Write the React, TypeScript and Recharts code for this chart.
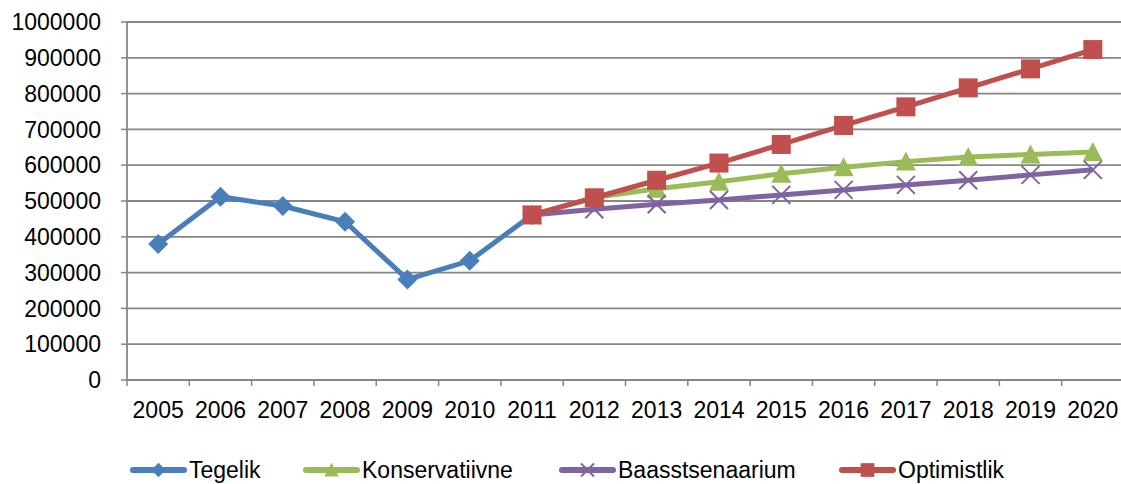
import React from 'react';
import { LineChart, Line, XAxis, YAxis, CartesianGrid, Legend } from 'recharts';

const years = ['2005', '2006', '2007', '2008', '2009', '2010', '2011', '2012', '2013', '2014', '2015', '2016', '2017', '2018', '2019', '2020'];
const tegelik = [380000, 512000, 486000, 442000, 281000, 333000, 461000, null, null, null, null, null, null, null, null, null];
const konservatiivne = [null, null, null, null, null, null, 461000, 510000, 534000, 554000, 576000, 594000, 610000, 623000, 630000, 637000];
const baasstsenaarium = [null, null, null, null, null, null, 461000, 477000, 491000, 503000, 517000, 531000, 545000, 558000, 573000, 587000];
const optimistlik = [null, null, null, null, null, null, 461000, 509000, 558000, 606000, 658000, 711000, 763000, 816000, 869000, 923000];
const yTicks = [0, 100000, 200000, 300000, 400000, 500000, 600000, 700000, 800000, 900000, 1000000];

const data = years.map((year, i) => ({
  year,
  tegelik: tegelik[i],
  konservatiivne: konservatiivne[i],
  baasstsenaarium: baasstsenaarium[i],
  optimistlik: optimistlik[i],
}));

const FONT = '"Liberation Sans", Arial, sans-serif';
const BLUE = '#4A7EBB';
const GREEN = '#9BBB59';
const PURPLE = '#8064A2';
const RED = '#C0504D';
const AXIS = '#868686';

const CHART_W = 1124;
const PLOT_LEFT = 127;
const BAND = (CHART_W - PLOT_LEFT) / years.length;
const TICK_SIZE = 6;
const TICK_MARGIN = 16;

type Shape = 'diamond' | 'triangle' | 'cross' | 'square';

function marker(shape: Shape, color: string, cx: number, cy: number, s = 1) {
  const r = 10 * s;
  if (shape === 'diamond') {
    return <polygon points={`${cx},${cy - r} ${cx + r},${cy} ${cx},${cy + r} ${cx - r},${cy}`} fill={color} />;
  }
  if (shape === 'triangle') {
    return <polygon points={`${cx},${cy - r} ${cx + r},${cy + 0.9 * r} ${cx - r},${cy + 0.9 * r}`} fill={color} />;
  }
  if (shape === 'square') {
    return <rect x={cx - 0.95 * r} y={cy - 0.95 * r} width={1.9 * r} height={1.9 * r} fill={color} />;
  }
  const c = 0.9 * r;
  return (
    <g stroke={color} strokeWidth={2}>
      <line x1={cx - c} y1={cy - c} x2={cx + c} y2={cy + c} />
      <line x1={cx - c} y1={cy + c} x2={cx + c} y2={cy - c} />
    </g>
  );
}

const makeDot = (shape: Shape, color: string) => (props: any) => {
  const { cx, cy, index, value } = props;
  if (value == null || cy == null || cx == null) return <g key={`d-${shape}-${index}`} />;
  return <g key={`d-${shape}-${index}`}>{marker(shape, color, cx, cy)}</g>;
};

const XTick = (props: any) => {
  const { x, y, payload, index } = props;
  const axisY = y - TICK_SIZE - TICK_MARGIN;
  const last = index === years.length - 1;
  return (
    <g>
      <line x1={x - BAND / 2} y1={axisY} x2={x - BAND / 2} y2={axisY + TICK_SIZE} stroke={AXIS} strokeWidth={1.5} />
      {last && <line x1={x + BAND / 2} y1={axisY} x2={x + BAND / 2} y2={axisY + TICK_SIZE} stroke={AXIS} strokeWidth={1.5} />}
      <text x={x} y={y} dy="0.71em" textAnchor="middle" fill="#000" fontSize={23} fontFamily={FONT}>
        {payload.value}
      </text>
    </g>
  );
};

const legendItems: { label: string; color: string; shape: Shape; left: number }[] = [
  { label: 'Tegelik', color: BLUE, shape: 'diamond', left: 130 },
  { label: 'Konservatiivne', color: GREEN, shape: 'triangle', left: 303 },
  { label: 'Baasstsenaarium', color: PURPLE, shape: 'cross', left: 559 },
  { label: 'Optimistlik', color: RED, shape: 'square', left: 839 },
];

const LegendContent = () => (
  <div style={{ position: 'relative', height: 28, fontFamily: FONT, fontSize: 23 }}>
    {legendItems.map((it) => (
      <div key={it.label} style={{ position: 'absolute', left: it.left, top: 0, display: 'flex', alignItems: 'center', height: 28 }}>
        <svg width={57} height={24} style={{ marginRight: 2 }}>
          <line x1={3} y1={12} x2={54} y2={12} stroke={it.color} strokeWidth={6} strokeLinecap="round" />
          {marker(it.shape, it.color, 28.5, 12, 0.72)}
        </svg>
        <span style={{ color: '#000', whiteSpace: 'nowrap' }}>{it.label}</span>
      </div>
    ))}
  </div>
);

export default function App() {
  return (
    <div style={{ position: 'absolute', left: 0, top: 0, width: 1121, height: 484, overflow: 'hidden', background: '#fff' }}>
      <LineChart width={CHART_W} height={484} data={data} margin={{ top: 22, right: 0, bottom: 0, left: 0 }}>
        <CartesianGrid vertical={false} stroke={AXIS} strokeWidth={1.8} />
        <XAxis
          dataKey="year"
          scale="band"
          height={104}
          tickLine={false}
          tickSize={TICK_SIZE}
          tickMargin={TICK_MARGIN}
          axisLine={{ stroke: AXIS, strokeWidth: 1.8 }}
          tick={<XTick />}
          interval={0}
        />
        <YAxis
          width={PLOT_LEFT}
          domain={[0, 1000000]}
          ticks={yTicks}
          interval={0}
          tickSize={TICK_SIZE}
          tickMargin={20}
          tickLine={{ stroke: AXIS, strokeWidth: 1.5 }}
          axisLine={{ stroke: AXIS, strokeWidth: 1.8 }}
          tick={{ fill: '#000', fontSize: 23, fontFamily: FONT }}
        />
        <Legend verticalAlign="middle" content={<LegendContent />} wrapperStyle={{ top: 456, left: 0, width: 1121 }} />
        <Line dataKey="tegelik" stroke={BLUE} strokeWidth={5} dot={makeDot('diamond', BLUE)} activeDot={false} isAnimationActive={false} />
        <Line dataKey="konservatiivne" stroke={GREEN} strokeWidth={5} dot={makeDot('triangle', GREEN)} activeDot={false} isAnimationActive={false} />
        <Line dataKey="baasstsenaarium" stroke={PURPLE} strokeWidth={5} dot={makeDot('cross', PURPLE)} activeDot={false} isAnimationActive={false} />
        <Line dataKey="optimistlik" stroke={RED} strokeWidth={5} dot={makeDot('square', RED)} activeDot={false} isAnimationActive={false} />
      </LineChart>
    </div>
  );
}
